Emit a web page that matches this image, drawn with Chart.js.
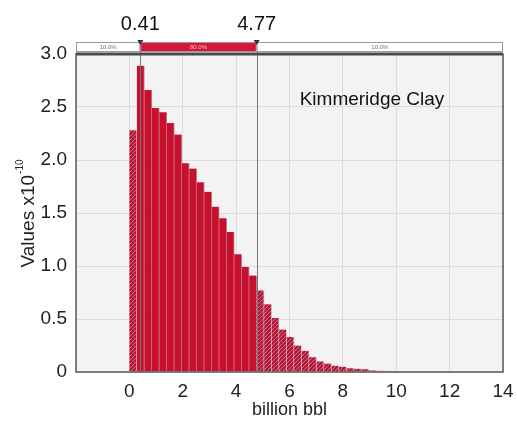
<!DOCTYPE html>
<html>
<head>
<meta charset="utf-8">
<script src="https://cdn.jsdelivr.net/npm/chart.js@4.4.0/dist/chart.umd.min.js"></script>
<style>
  html, body { margin: 0; padding: 0; background: #fff; }
</style>
</head>
<body>
<canvas id="chart" width="517" height="421"></canvas>
<script>
// histogram bins start at 0, fixed width (billion bbl)
const binStart = 0;
const binWidth = 0.2806;
// bar heights, x10^-10
const heights = [
  2.28, 2.89, 2.66, 2.49, 2.45, 2.35, 2.24, 1.97, 1.92, 1.79,
  1.70, 1.56, 1.45, 1.32, 1.11, 0.99, 0.91,
  0.77, 0.64, 0.51, 0.40, 0.33, 0.25, 0.20, 0.14, 0.10,
  0.08, 0.06, 0.05, 0.035, 0.03, 0.025, 0.015, 0.012, 0.01, 0.008
];
const markers = [0.41, 4.77];
const shares = ['10.0%', '80.0%', '10.0%'];
const chartLabel = 'Kimmeridge Clay';
const yTitle = 'Values x10';
const yTitleExp = '-10';

const SOLID = '#c8102e';
const FONT = '"Liberation Sans", Arial, sans-serif';

function hatch() {
  const c = document.createElement('canvas');
  c.width = 4; c.height = 4;
  const g = c.getContext('2d');
  g.fillStyle = '#d9788c';
  g.fillRect(0, 0, 4, 4);
  g.strokeStyle = '#ad1233';
  g.lineWidth = 2;
  g.beginPath();
  g.moveTo(-1, 5); g.lineTo(5, -1);
  g.moveTo(-1, 1); g.lineTo(1, -1);
  g.moveTo(3, 5); g.lineTo(5, 3);
  g.stroke();
  return g.createPattern(c, 'repeat');
}
const pattern = hatch();

const points = heights.map((h, i) => ({ x: binStart + (i + 0.5) * binWidth, y: h }));
const inside = p => p.x > markers[0] && p.x < markers[1];

const overlay = {
  id: 'overlay',
  beforeDraw(chart) {
    const { ctx, chartArea: a } = chart;
    ctx.save();
    ctx.fillStyle = '#f3f3f3';
    ctx.fillRect(a.left, a.top, a.right - a.left, a.bottom - a.top);
    ctx.restore();
  },
  afterDatasetsDraw(chart) {
    const { ctx, chartArea: a, scales: { x } } = chart;
    const mx = markers.map(m => x.getPixelForValue(m));
    ctx.save();
    // marker lines
    ctx.strokeStyle = '#777';
    ctx.lineWidth = 1;
    mx.forEach(px => {
      ctx.beginPath();
      ctx.moveTo(Math.round(px) + 0.5, a.top - 12);
      ctx.lineTo(Math.round(px) + 0.5, a.bottom);
      ctx.stroke();
    });
    // frame
    ctx.strokeStyle = '#5a5a5a';
    ctx.lineWidth = 1.5;
    ctx.strokeRect(a.left, a.top, a.right - a.left, a.bottom - a.top);
    ctx.strokeStyle = '#4a4a4a';
    ctx.lineWidth = 3;
    ctx.beginPath();
    ctx.moveTo(a.left, a.top); ctx.lineTo(a.right, a.top);
    ctx.stroke();
    // top strip
    const sTop = a.top - 12, sH = 10;
    const edges = [a.left, mx[0], mx[1], a.right];
    for (let i = 0; i < 3; i++) {
      ctx.fillStyle = i === 1 ? '#d7143a' : '#fff';
      ctx.fillRect(edges[i], sTop, edges[i + 1] - edges[i], sH);
      ctx.strokeStyle = '#999';
      ctx.lineWidth = 1;
      ctx.strokeRect(edges[i] + 0.5, sTop + 0.5, edges[i + 1] - edges[i] - 1, sH - 1);
      ctx.fillStyle = i === 1 ? '#f4c0c8' : '#777';
      ctx.font = '6px ' + FONT;
      ctx.textAlign = 'center';
      ctx.textBaseline = 'middle';
      ctx.fillText(shares[i], (edges[i] + edges[i + 1]) / 2, sTop + sH / 2);
    }
    // marker triangles and values
    mx.forEach((px, i) => {
      ctx.fillStyle = '#333';
      ctx.beginPath();
      ctx.moveTo(px - 3, sTop - 2);
      ctx.lineTo(px + 3, sTop - 2);
      ctx.lineTo(px, sTop + 3);
      ctx.closePath();
      ctx.fill();
      ctx.fillStyle = '#111';
      ctx.font = '20px ' + FONT;
      ctx.textAlign = 'center';
      ctx.textBaseline = 'alphabetic';
      ctx.fillText(markers[i].toFixed(2), px, sTop - 12);
    });
    // chart label
    ctx.fillStyle = '#111';
    ctx.font = '19px ' + FONT;
    ctx.textAlign = 'center';
    ctx.textBaseline = 'middle';
    ctx.fillText(chartLabel, a.left + 296, a.top + 46);
    // y title with exponent
    ctx.translate(29, 214);
    ctx.rotate(-Math.PI / 2);
    ctx.font = '19px ' + FONT;
    const w1 = ctx.measureText(yTitle).width;
    ctx.font = '10px ' + FONT;
    const w2 = ctx.measureText(yTitleExp).width;
    const start = -(w1 + w2) / 2;
    ctx.textAlign = 'left';
    ctx.textBaseline = 'middle';
    ctx.fillStyle = '#222';
    ctx.font = '19px ' + FONT;
    ctx.fillText(yTitle, start, 0);
    ctx.font = '10px ' + FONT;
    ctx.fillText(yTitleExp, start + w1 + 1, -9);
    ctx.restore();
  }
};

new Chart(document.getElementById('chart'), {
  type: 'bar',
  data: {
    datasets: [{
      data: points,
      backgroundColor: points.map(p => inside(p) ? SOLID : pattern),
      borderColor: points.map(p => inside(p) ? 'rgba(110,0,20,0.45)' : 'rgba(150,20,50,0.25)'),
      borderWidth: { left: 0, right: 1, top: 0, bottom: 0 },
      barPercentage: 1,
      categoryPercentage: 1
    }]
  },
  options: {
    responsive: false,
    devicePixelRatio: 1,
    animation: false,
    layout: { padding: { left: 17, right: 14, top: 54, bottom: 0 } },
    plugins: { legend: { display: false }, tooltip: { enabled: false } },
    scales: {
      x: {
        type: 'linear',
        offset: false,
        min: -2, max: 14,
        afterFit(s) { s.height = 49; s.paddingLeft = 0; s.paddingRight = 0; },
        grid: { color: '#dcdcdc', drawTicks: false, offset: false },
        border: { display: false },
        ticks: {
          stepSize: 2,
          padding: 8,
          color: '#222',
          font: { family: FONT, size: 19 },
          callback: v => v < 0 ? '' : v
        },
        title: {
          display: true,
          text: 'billion bbl',
          color: '#222',
          padding: 0,
          font: { family: FONT, size: 18 }
        }
      },
      y: {
        min: 0, max: 3,
        afterFit(s) { s.width = 59; },
        grid: { color: '#dcdcdc', drawTicks: false },
        border: { display: false },
        ticks: {
          stepSize: 0.5,
          padding: 9,
          color: '#222',
          font: { family: FONT, size: 19 },
          callback: v => v === 0 ? '0' : v.toFixed(1)
        },
        title: { display: false }
      }
    }
  },
  plugins: [overlay]
});
</script>
</body>
</html>
